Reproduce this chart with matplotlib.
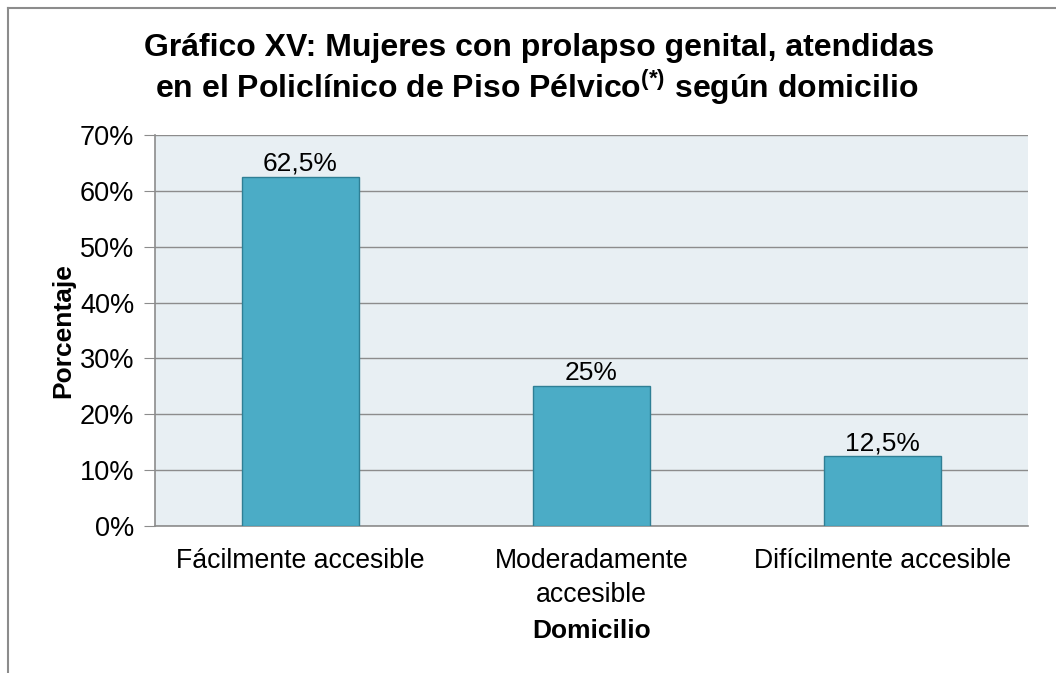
import matplotlib
matplotlib.use("Agg")
import matplotlib.pyplot as plt
from matplotlib.lines import Line2D
from matplotlib.ticker import PercentFormatter

plt.rcParams["font.family"] = ["Liberation Sans", "DejaVu Sans"]
plt.rcParams["mathtext.fontset"] = "custom"
plt.rcParams["mathtext.rm"] = "Liberation Sans"
plt.rcParams["mathtext.bf"] = "Liberation Sans:bold"

categories = ["Fácilmente accesible", "Moderadamente\naccesible", "Difícilmente accesible"]
values = [62.5, 25.0, 12.5]
value_labels = ["62,5%", "25%", "12,5%"]
y_ticks = [0, 10, 20, 30, 40, 50, 60, 70]

fig = plt.figure(figsize=(10.56, 6.73), dpi=100)
ax = fig.add_axes([0.1468, 0.2184, 0.8267, 0.581])
ax.set_facecolor("#E8EFF3")

x = range(len(categories))
bars = ax.bar(x, values, width=0.405, color="#4BACC6", edgecolor="#2F7F95",
              linewidth=1, zorder=3)
for b, lab in zip(bars, value_labels):
    ax.text(b.get_x() + b.get_width() / 2, b.get_height() + 0.2, lab,
            ha="center", va="bottom", fontsize=19, zorder=4)

ax.set_xlim(-0.5, 2.5)
ax.set_ylim(0, 70)
ax.set_yticks(y_ticks)
ax.yaxis.set_major_formatter(PercentFormatter(decimals=0))
ax.set_xticks(list(x))
ax.set_xticklabels(categories, fontsize=19.2, linespacing=1.4)
ax.tick_params(axis="y", labelsize=19.5, length=8, color="#8C8C8C", pad=7)
ax.tick_params(axis="x", length=0, pad=16)
ax.grid(axis="y", color="#8C8C8C", linewidth=1, zorder=1)
for s in ["top", "right"]:
    ax.spines[s].set_visible(False)
for s in ["left", "bottom"]:
    ax.spines[s].set_color("#8C8C8C")
    ax.spines[s].set_linewidth(1.2)

ax.set_ylabel("Porcentaje", fontsize=19, fontweight="bold", labelpad=3)
ax.set_xlabel("Domicilio", fontsize=19, fontweight="bold", labelpad=8)

fig.text(0.511, 0.928, "Gráfico XV: Mujeres con prolapso genital, atendidas",
         ha="center", va="center", fontsize=23, fontweight="bold")
fig.text(0.508, 0.871,
         r"en el Policlínico de Piso Pélvico$^{\mathbf{(*)}}$ según domicilio",
         ha="center", va="center", fontsize=23, fontweight="bold")

# outer chart frame (left and top edges visible)
fig.add_artist(Line2D([8 / 1056, 8 / 1056], [0, 1 - 8 / 673],
                      transform=fig.transFigure, color="#8C8C8C", linewidth=1.5))
fig.add_artist(Line2D([8 / 1056, 1], [1 - 8 / 673, 1 - 8 / 673],
                      transform=fig.transFigure, color="#8C8C8C", linewidth=1.5))

fig.savefig("out.png", dpi=100)
